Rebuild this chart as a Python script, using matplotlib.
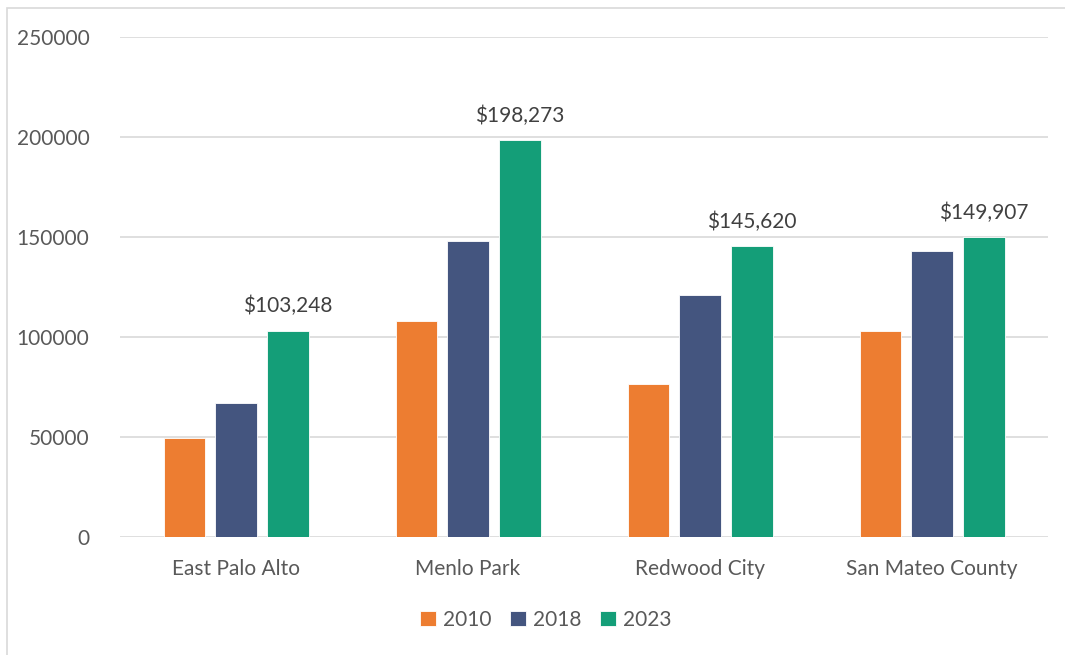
import numpy as np
import matplotlib.pyplot as plt

plt.rcParams['font.family'] = ['Lato', 'DejaVu Sans']

places = ["East Palo Alto", "Menlo Park", "Redwood City", "San Mateo County"]
years = ["2010", "2018", "2023"]
v2010 = [49700, 108000, 76500, 103000]
v2018 = [67000, 148000, 121000, 143000]
v2023 = [103248, 198273, 145620, 149907]
colors = ["#ED7D31", "#44557F", "#149E78"]


def produceGraph():
    fig = plt.figure(figsize=(10.65, 6.55), dpi=100)
    ax = fig.add_axes([120 / 1065, 1 - 537 / 655, 928 / 1065, 500 / 655])
    x = np.arange(len(places))
    w = 0.177
    step = 0.224
    series = [v2010, v2018, v2023]
    for i, (vals, c, yr) in enumerate(zip(series, colors, years)):
        bars = ax.bar(x + (i - 1) * step, vals, w, color=c, label=yr,
                      edgecolor="white", linewidth=0.6, zorder=3)
        if yr == "2023":
            for b, v in zip(bars, vals):
                ax.text(b.get_x() + b.get_width() / 2, v + 7000, "${:,}".format(v),
                        ha="center", va="bottom", fontsize=15, color="#404040")
    ax.set_xlim(-0.5, len(places) - 0.5)
    ax.set_ylim(0, 250000)
    ax.set_yticks(range(0, 250001, 50000))
    ax.set_xticks(x)
    ax.set_xticklabels(places)
    ax.grid(axis="y", color="#D9D9D9", linewidth=1.2, zorder=0)
    for s in ax.spines.values():
        s.set_visible(False)
    ax.tick_params(length=0, labelsize=15, colors="#595959")
    ax.tick_params(axis="x", pad=16)
    ax.tick_params(axis="y", pad=22)
    leg = fig.legend(*ax.get_legend_handles_labels(), loc="center",
                     bbox_to_anchor=(546 / 1065, 1 - 620 / 655), ncol=3, frameon=False,
                     fontsize=15, handlelength=0.75, handleheight=0.75, columnspacing=0.9,
                     handletextpad=0.35)
    for t in leg.get_texts():
        t.set_color("#595959")
    fig.patches.append(plt.Rectangle((7 / 1065, -0.01), 1.0, 1 - 8 / 655 + 0.01,
                                     transform=fig.transFigure, fill=False,
                                     edgecolor="#D9D9D9", linewidth=1.2))
    fig.savefig("out.png", dpi=100)


def main():
    produceGraph()


if __name__ == "__main__":
    main()
